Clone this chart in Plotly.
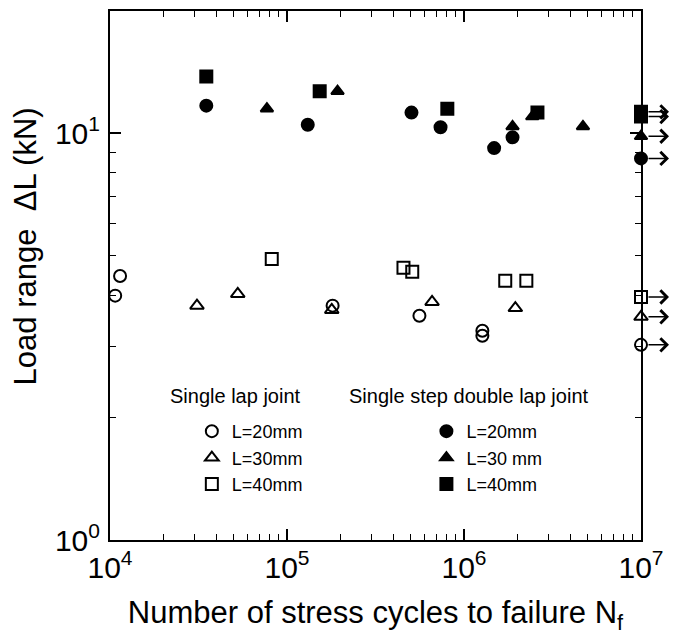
import math
import plotly.graph_objects as go

# Fatigue data: stress cycles to failure N_f and load range dL (kN)
# Single lap joint (open symbols)
slj20_n = [1.07e4, 1.14e4, 1.81e5, 5.6e5, 1.27e6, 1.27e6, 1.0e7]
slj20_dl = [3.99, 4.46, 3.77, 3.56, 3.27, 3.18, 3.02]
slj30_n = [3.1e4, 5.27e4, 1.79e5, 6.6e5, 1.95e6, 1.0e7]
slj30_dl = [3.77, 4.03, 3.68, 3.85, 3.72, 3.54]
slj40_n = [8.2e4, 4.55e5, 5.1e5, 1.71e6, 2.25e6, 1.0e7]
slj40_dl = [4.91, 4.67, 4.57, 4.34, 4.34, 3.96]

# Single step double lap joint (filled symbols)
sdlj20_n = [3.5e4, 1.31e5, 5.05e5, 7.37e5, 1.48e6, 1.88e6, 1.0e7]
sdlj20_dl = [11.7, 10.5, 11.25, 10.35, 9.2, 9.78, 8.68]
sdlj30_n = [7.7e4, 1.93e5, 1.88e6, 2.43e6, 4.7e6, 1.0e7]
sdlj30_dl = [11.5, 12.7, 10.4, 11.0, 10.4, 9.84]
sdlj40_n = [3.5e4, 1.53e5, 8.05e5, 2.6e6, 1.0e7, 1.0e7]
sdlj40_dl = [13.8, 12.7, 11.5, 11.25, 11.3, 11.0]

RUNOUT = 1.0e7  # specimens that did not fail (marked with arrows)

x_tickvals = [1e4, 1e5, 1e6, 1e7]
x_ticktext = ["10<sup>4</sup>", "10<sup>5</sup>", "10<sup>6</sup>", "10<sup>7</sup>"]
y_tickvals = [1, 10]
y_ticktext = ["10<sup>0</sup>", "10<sup>1</sup>"]

FONT = "Liberation Sans, Arial, Helvetica, sans-serif"
X_RANGE = [4, 7]
Y_RANGE = [0, math.log10(20)]

series = [
    ("L=20mm", slj20_n, slj20_dl, "circle-open", 12, "legend"),
    ("L=30mm", slj30_n, slj30_dl, "triangle-up-open", 12, "legend"),
    ("L=40mm", slj40_n, slj40_dl, "square-open", 12, "legend"),
    ("L=20mm", sdlj20_n, sdlj20_dl, "circle", 12, "legend2"),
    ("L=30 mm", sdlj30_n, sdlj30_dl, "triangle-up", 11, "legend2"),
    ("L=40mm", sdlj40_n, sdlj40_dl, "square", 12, "legend2"),
]

fig = go.Figure()
for name, xs, ys, sym, size, leg in series:
    fig.add_trace(go.Scatter(
        x=xs, y=ys, mode="markers", name=name, legend=leg,
        marker=dict(symbol=sym, size=size, color="black",
                    line=dict(color="black", width=2)),
        cliponaxis=False,
    ))

# empty trace that carries the mirrored top/right tick axes
fig.add_trace(go.Scatter(x=[], y=[], xaxis="x2", yaxis="y2",
                         showlegend=False, hoverinfo="skip"))

# run-out arrows to the right of specimens still intact at 10^7 cycles
annotations = []
for name, xs, ys, sym, size, leg in series:
    for xv, yv in zip(xs, ys):
        if xv >= RUNOUT:
            annotations.append(dict(
                x=math.log10(xv), y=math.log10(yv), xref="x", yref="y",
                text="", showarrow=True, ax=-22, ay=0, xshift=28,
                arrowhead=4, arrowsize=1.7, arrowwidth=1.5, arrowcolor="black",
            ))

# legend group headings
annotations.append(dict(x=(168 - 110) / 532, y=(542 - 397) / 533, xref="paper", yref="paper",
                        text="Single lap joint", showarrow=False, xanchor="left", yanchor="middle",
                        font=dict(family=FONT, size=20, color="black")))
annotations.append(dict(x=(347 - 110) / 532, y=(542 - 397) / 533, xref="paper", yref="paper",
                        text="Single step double lap joint", showarrow=False, xanchor="left",
                        yanchor="middle", font=dict(family=FONT, size=20, color="black")))

# y-axis title
annotations.append(dict(x=(25 - 110) / 532, y=(542 - 246) / 533, xref="paper", yref="paper",
                        text="Load range  \u0394L (kN)", showarrow=False, textangle=-90,
                        xanchor="center", yanchor="middle",
                        font=dict(family=FONT, size=31, color="black")))

minor_x = [m * 10 ** e for e in range(4, 7) for m in range(2, 10)]
minor_y = [m * 10 ** e for e in range(0, 1) for m in range(2, 10)]


def tick_axis(rng, tickvals, minor_vals):
    return dict(
        type="log", range=rng, tickmode="array", tickvals=tickvals,
        ticks="inside", ticklen=11, tickwidth=1.5, tickcolor="black",
        minor=dict(tickmode="array", tickvals=minor_vals, ticks="inside",
                   ticklen=6, tickwidth=1.2, tickcolor="black", showgrid=False),
        showgrid=False, zeroline=False,
    )


fig.update_layout(
    width=673, height=635,
    margin=dict(l=110, r=31, t=9, b=93),
    paper_bgcolor="white", plot_bgcolor="white",
    font=dict(family=FONT, color="black"),
    xaxis=dict(
        **tick_axis(X_RANGE, x_tickvals, minor_x),
        ticktext=x_ticktext,
        showline=True, linecolor="black", linewidth=2, mirror="allticks",
        tickfont=dict(family=FONT, size=30, color="black"),
        title=dict(text="Number of stress cycles to failure N<sub>f</sub>",
                   font=dict(family=FONT, size=31, color="black"), standoff=20),
    ),
    yaxis=dict(
        **tick_axis(Y_RANGE, y_tickvals, minor_y),
        ticktext=y_ticktext,
        showline=True, linecolor="black", linewidth=2, mirror="allticks",
        tickfont=dict(family=FONT, size=30, color="black"),
        ticklabelstandoff=2,
    ),
    xaxis2=dict(**tick_axis(X_RANGE, x_tickvals, minor_x),
                overlaying="x", side="top", anchor="y", showticklabels=False),
    yaxis2=dict(**tick_axis(Y_RANGE, y_tickvals, minor_y),
                overlaying="y", side="right", anchor="x", showticklabels=False),
    legend=dict(x=(192 - 110) / 532, y=(542 - 414) / 533, xanchor="left", yanchor="top",
                bgcolor="rgba(0,0,0,0)", borderwidth=0, tracegroupgap=0,
                font=dict(family=FONT, size=18, color="black")),
    legend2=dict(x=(427 - 110) / 532, y=(542 - 414) / 533, xanchor="left", yanchor="top",
                 bgcolor="rgba(0,0,0,0)", borderwidth=0, tracegroupgap=0,
                 font=dict(family=FONT, size=18, color="black")),
    annotations=annotations,
)

fig.write_html("out.html")
